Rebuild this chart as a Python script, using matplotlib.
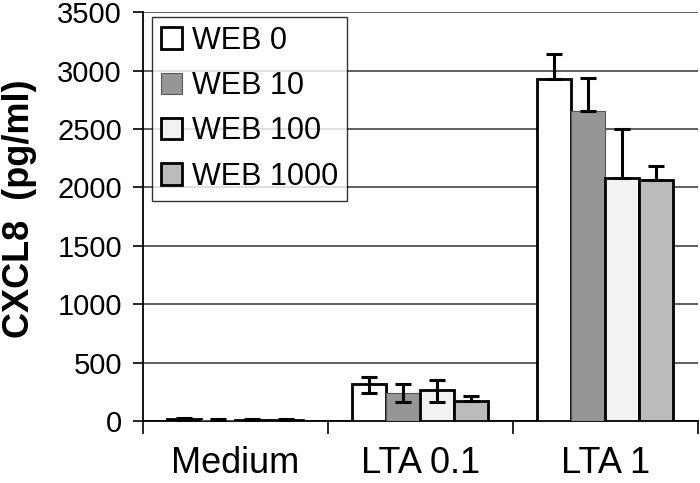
import matplotlib.pyplot as plt
import numpy as np

plt.rcParams['font.family'] = ['Liberation Sans', 'DejaVu Sans']

categories = ['Medium', 'LTA 0.1', 'LTA 1']
series = ['WEB 0', 'WEB 10', 'WEB 100', 'WEB 1000']
values = [
    [15, 315, 2930],
    [10, 240, 2650],
    [10, 265, 2080],
    [10, 170, 2060],
]
err_up = [
    [12, 60, 210],
    [8, 80, 285],
    [5, 85, 420],
    [5, 45, 120],
]
err_low = [
    [12, 75, 0],
    [8, 80, 0],
    [5, 105, 0],
    [5, 0, 0],
]
colors = ['#ffffff', '#969696', '#f2f2f2', '#bbbbbb']
edges = ['black', '#555555', 'black', 'black']
edge_w = [2.0, 0.8, 2.0, 2.0]

fig = plt.figure(figsize=(7, 4.83), dpi=100)
ax = fig.add_axes([0.204, 0.128, 0.793, 0.847])

x = np.arange(len(categories))
w = 0.184
for i in range(4):
    pos = x + (i - 1.5) * w
    ax.bar(pos, values[i], w, color=colors[i], edgecolor=edges[i],
           linewidth=edge_w[i], label=series[i], zorder=3)
    ax.errorbar(pos, values[i], yerr=[err_low[i], err_up[i]], fmt='none',
                ecolor='black', elinewidth=2.2, capsize=6, capthick=2.2, zorder=4)

ax.set_ylim(0, 3500)
ax.set_xlim(-0.5, 2.5)
ax.set_yticks(range(0, 3501, 500))
ax.yaxis.grid(True, color='#333333', linewidth=1.1, zorder=0)
ax.set_xticks(x)
ax.set_xticklabels(categories, fontsize=26)
ax.set_xticks([-0.5, 0.5, 1.5, 2.5], minor=True)
ax.tick_params(axis='x', which='major', length=0, pad=18)
ax.tick_params(axis='x', which='minor', length=9, width=1.2, direction='out')
ax.tick_params(axis='y', labelsize=21, length=7, width=1.2, pad=8)
for s in ['top', 'right']:
    ax.spines[s].set_visible(False)
for s in ['left', 'bottom']:
    ax.spines[s].set_linewidth(1.3)

ax.set_ylabel('CXCL8  (pg/ml)', fontsize=26, fontweight='bold')
ax.yaxis.set_label_coords(-0.19, 0.52)

leg = ax.legend(loc='upper left', bbox_to_anchor=(0.008, 1.0), fontsize=22,
                frameon=True, fancybox=False, edgecolor='black',
                handlelength=0.7, handleheight=0.7, handletextpad=0.3,
                labelspacing=0.5, borderpad=0.3, borderaxespad=0.15)
leg.get_frame().set_linewidth(1.0)

fig.savefig('out.png', dpi=100)
